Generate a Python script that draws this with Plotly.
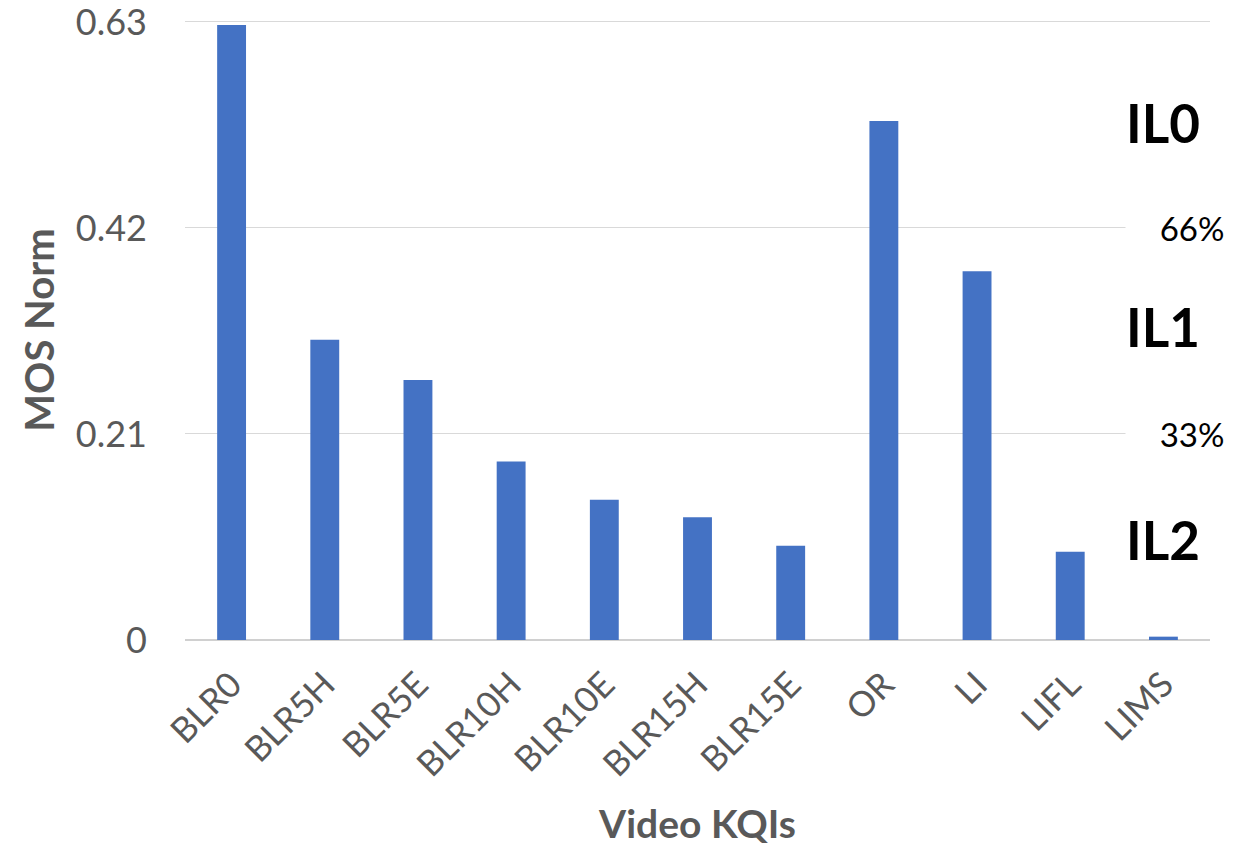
import plotly.graph_objects as go

# Video KQIs and their normalised MOS impact
kqis = ["BLR0", "BLR5H", "BLR5E", "BLR10H", "BLR10E", "BLR15H",
        "BLR15E", "OR", "LI", "LIFL", "LIMS"]
mos_norm = [0.627, 0.306, 0.265, 0.182, 0.143, 0.125,
            0.096, 0.529, 0.376, 0.090, 0.0034]

y_ticks = [0, 0.21, 0.42, 0.63]
y_tick_text = ["0", "0.21", "0.42", "0.63"]

# Impact-level labels on the right-hand side
level_labels = ["IL0", "IL1", "IL2"]
level_y = [0.528, 0.320, 0.102]
split_labels = ["66%", "33%"]
split_y = [0.42, 0.21]

FONT = "Lato, Carlito, 'Open Sans', sans-serif"
GREY = "#595959"

fig = go.Figure(
    go.Bar(
        x=kqis,
        y=mos_norm,
        marker=dict(color="#4472C4", line=dict(width=0)),
        width=0.31,
    )
)

annotations = []
for text, yv in zip(level_labels, level_y):
    annotations.append(dict(
        x=1.0, xref="paper", y=yv, yref="y",
        text=f"<b>{text}</b>", showarrow=False,
        xanchor="right", yanchor="middle", xshift=-8,
        font=dict(family=FONT, size=53, color="#000000"),
    ))
for text, yv in zip(split_labels, split_y):
    annotations.append(dict(
        x=1.0, xref="paper", y=yv, yref="y",
        text=text, showarrow=False,
        xanchor="left", yanchor="middle", xshift=-85,
        width=130, align="center", bgcolor="#ffffff",
        font=dict(family=FONT, size=33, color="#000000"),
    ))

fig.update_layout(
    width=1245,
    height=846,
    margin=dict(l=185, r=35, t=20, b=206, autoexpand=False),
    paper_bgcolor="#ffffff",
    plot_bgcolor="#ffffff",
    showlegend=False,
    bargap=0.69,
    font=dict(family=FONT, color=GREY),
    xaxis=dict(
        automargin=False,
        tickangle=-45,
        tickfont=dict(family=FONT, size=35, color=GREY),
        showgrid=False,
        showline=False,
        ticks="",
        ticklabelstandoff=16,
        title=dict(text="<b>Video KQIs</b>",
                   font=dict(family=FONT, size=39, color=GREY),
                   standoff=36),
    ),
    yaxis=dict(
        automargin=False,
        range=[0, 0.632],
        tickvals=y_ticks,
        ticktext=y_tick_text,
        tickfont=dict(family=FONT, size=36, color=GREY),
        ticklabeloverflow="allow",
        showgrid=True,
        gridcolor="#d9d9d9",
        gridwidth=1.3,
        zeroline=True,
        zerolinecolor="#d0d0d0",
        zerolinewidth=1.5,
        showline=False,
        ticks="",
        ticklabelstandoff=37,
        title=dict(text="<b>MOS Norm</b>",
                   font=dict(family=FONT, size=40, color=GREY),
                   standoff=8),
    ),
    annotations=annotations,
)

fig.write_html("out.html")
